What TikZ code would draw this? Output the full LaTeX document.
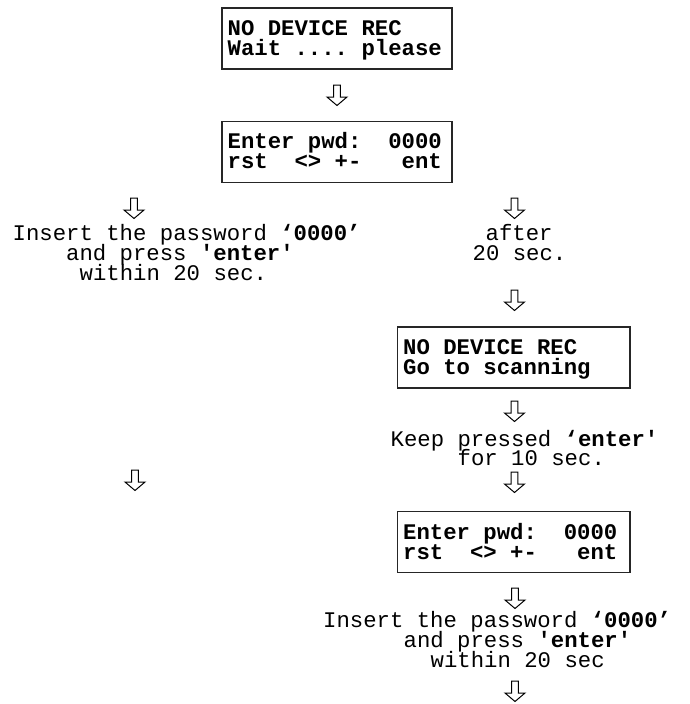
\documentclass[tikz,border=0pt]{standalone}
\usepackage{fontspec}
\setmonofont{Liberation Mono}
\begin{document}
\begin{tikzpicture}[x=1pt,y=-1pt,
  lcd/.style={draw=black!85, line width=1.3pt, rectangle, inner sep=0pt, minimum height=61pt},
  txt/.style={anchor=base west, inner sep=0pt, font=\ttfamily\frenchspacing\fontsize{22.3}{20}\selectfont},
  btxt/.style={anchor=base west, inner sep=0pt, font=\ttfamily\bfseries\frenchspacing\fontsize{22.3}{20}\selectfont},
  downarr/.pic={\draw[line width=1pt, line join=miter] (-3.4,0) -- (-3.4,12) -- (-10,12) -- (0,20.5) -- (10,12) -- (3.4,12) -- (3.4,0) -- cycle;}
]
\useasboundingbox (0,0) rectangle (689,704);

% box 1
\node[lcd, minimum width=230pt] (b1) at (337,38.5) {};
\node[btxt] (t1a) at (227.5,35) {NO DEVICE REC};
\node[btxt] (t1b) at (227.5,55) {Wait~....~please};
\pic (a1) at (337,85) {downarr};

% box 2
\node[lcd, minimum width=230pt] (b2) at (337,152) {};
\node[btxt] (t2a) at (227.5,148) {Enter pwd:~~0000};
\node[btxt] (t2b) at (227.5,168) {rst~~<>~+-~~~ent};

% left branch
\pic (aL1) at (134,198) {downarr};
\node[txt] (l1) at (12.5,240) {Insert the password \textbf{‘0000’}};
\node[txt] (l2) at (66,260) {and press \textbf{'enter'}};
\node[txt] (l3) at (79.5,280) {within 20 sec.};
\pic (aL2) at (135,470) {downarr};

% right branch
\pic (aR1) at (514.5,198) {downarr};
\node[txt] (r1) at (485.5,240) {after};
\node[txt] (r2) at (472.5,260) {20 sec.};
\pic (aR2) at (514.5,290) {downarr};

% box 3
\node[lcd, minimum width=232.5pt] (b3) at (513.75,357.5) {};
\node[btxt] (t3a) at (403,354) {NO DEVICE REC};
\node[btxt] (t3b) at (403,374) {Go to scanning};
\pic (aR3) at (514.5,401) {downarr};
\node[txt] (k1) at (390.5,446.5) {Keep pressed \textbf{‘enter'}};
\node[txt] (k2) at (457.5,465.5) {for 10 sec.};
\pic (aR4) at (514.5,472) {downarr};

% box 4
\node[lcd, minimum width=232.5pt] (b4) at (513.75,542) {};
\node[btxt] (t4a) at (403,539) {Enter pwd:~~0000};
\node[btxt] (t4b) at (403,559) {rst~~<>~+-~~~ent};
\pic (aR5) at (515,588) {downarr};
\node[txt] (m1) at (323,627) {Insert the password \textbf{‘0000’}};
\node[txt] (m2) at (403.5,647) {and press \textbf{'enter'}};
\node[txt] (m3) at (430.5,667) {within 20 sec};
\pic (aR6) at (515,681) {downarr};
\end{tikzpicture}
\end{document}
